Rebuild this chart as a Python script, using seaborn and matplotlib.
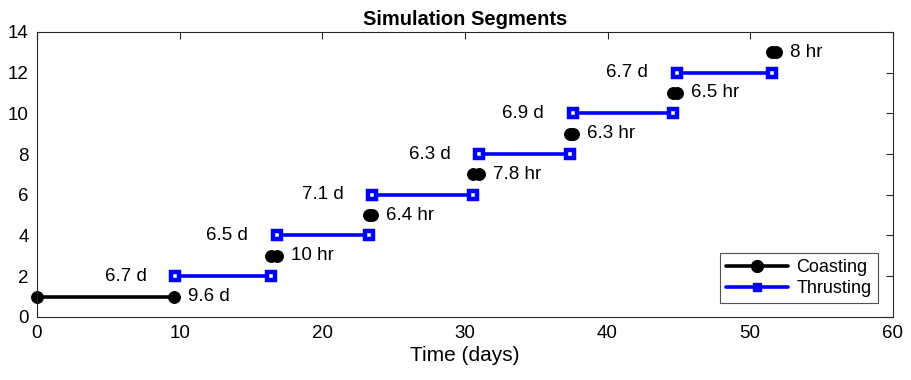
import matplotlib
matplotlib.use("Agg")
import matplotlib.pyplot as plt
from matplotlib.lines import Line2D
import seaborn as sns
import pandas as pd

# Coasting segments (start, end in days), level, label
coast_start = [0.0, 16.4, 23.3, 30.6, 37.35, 44.57, 51.5]
coast_end = [9.6, 16.8, 23.5, 31.0, 37.56, 44.85, 51.8]
coast_level = [1, 3, 5, 7, 9, 11, 13]
coast_labels = ["9.6 d", "10 hr", "6.4 hr", "7.8 hr", "6.3 hr", "6.5 hr", "8 hr"]

# Thrusting segments
thrust_start = [9.67, 16.8, 23.5, 31.0, 37.56, 44.85]
thrust_end = [16.4, 23.3, 30.6, 37.35, 44.57, 51.5]
thrust_level = [2, 4, 6, 8, 10, 12]
thrust_labels = ["6.7 d", "6.5 d", "7.1 d", "6.3 d", "6.9 d", "6.7 d"]

x_ticks = [0, 10, 20, 30, 40, 50, 60]
y_ticks = [0, 2, 4, 6, 8, 10, 12, 14]

def seg_frame(starts, ends, levels):
    rows = []
    for i, (s, e, l) in enumerate(zip(starts, ends, levels)):
        rows.append({"time": s, "level": l, "seg": i})
        rows.append({"time": e, "level": l, "seg": i})
    return pd.DataFrame(rows)

coast_df = seg_frame(coast_start, coast_end, coast_level)
thrust_df = seg_frame(thrust_start, thrust_end, thrust_level)

sns.set_style("white")
plt.rcParams["font.family"] = ["Liberation Sans", "DejaVu Sans"]
plt.rcParams["text.color"] = "black"
plt.rcParams["axes.labelcolor"] = "black"

fig = plt.figure(figsize=(9.11, 3.8), dpi=100)
ax = fig.add_axes([0.0406, 0.166, 0.9394, 0.75])

sns.lineplot(data=coast_df, x="time", y="level", units="seg", estimator=None,
             color="black", linewidth=2.6, marker="o", markersize=8.5,
             markeredgecolor="black", markerfacecolor="black",
             legend=False, ax=ax, sort=False)
sns.lineplot(data=thrust_df, x="time", y="level", units="seg", estimator=None,
             color="#0000FF", linewidth=2.6, marker="s", markersize=6.3,
             markeredgecolor="#0000FF", markerfacecolor="white",
             markeredgewidth=3.2, legend=False, ax=ax, sort=False)
for ln in ax.lines:
    ln.set_clip_on(False)

for e, l, t in zip(coast_end, coast_level, coast_labels):
    ax.text(e + 1.0, l, t, ha="left", va="center", fontsize=13.5, color="black")
for s, l, t in zip(thrust_start, thrust_level, thrust_labels):
    ax.text(s - 2.0, l, t, ha="right", va="center", fontsize=13.5, color="black")

ax.set_xlim(0, 60)
ax.set_ylim(0, 14)
ax.set_xticks(x_ticks)
ax.set_yticks(y_ticks)
ax.tick_params(direction="in", top=True, right=True, length=5, width=0.8,
               labelsize=13.5, colors="#262626", labelcolor="black", pad=6)
for sp in ax.spines.values():
    sp.set_color("#262626")
    sp.set_linewidth(0.8)
    sp.set_visible(True)
ax.set_xlabel("Time (days)", fontsize=15, color="black", labelpad=3)
ax.set_ylabel("")
ax.set_title("Simulation Segments", fontsize=14.5, fontweight="bold", pad=5,
             color="black")

handles = [
    Line2D([0], [0], color="black", linewidth=2.6, marker="o", markersize=8.5),
    Line2D([0], [0], color="#0000FF", linewidth=2.6, marker="s", markersize=6),
]
leg = ax.legend(handles, ["Coasting", "Thrusting"], loc="lower right",
                bbox_to_anchor=(0.987, 0.035), fontsize=13, frameon=True,
                fancybox=False, edgecolor="#262626", handlelength=3.4,
                borderpad=0.35, labelspacing=0.2, handletextpad=0.5,
                borderaxespad=0.2)
leg.get_frame().set_linewidth(0.8)
for t in leg.get_texts():
    t.set_color("black")

fig.savefig("out.png", dpi=100)
